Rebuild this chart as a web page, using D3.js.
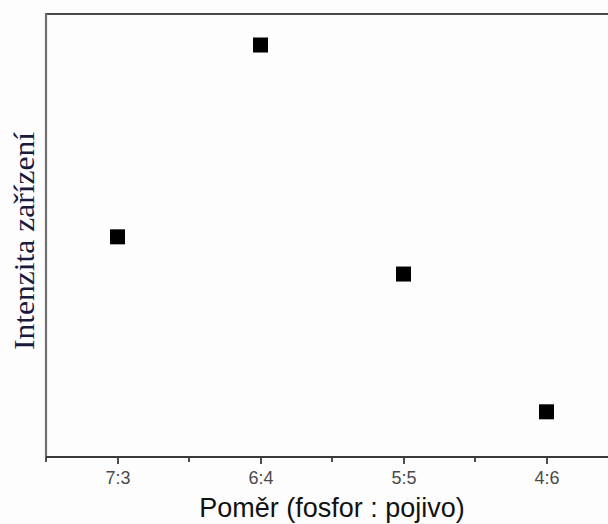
<!DOCTYPE html>
<html>
<head>
<meta charset="utf-8">
<script src="https://cdn.jsdelivr.net/npm/d3@7"></script>
<style>
  html, body { margin: 0; padding: 0; background: #fdfdfd; }
  svg { display: block; }
</style>
</head>
<body>
<svg id="chart" width="608" height="524"></svg>
<script>
// Ratio of phosphor to binder and the measured device intensity (arbitrary units)
const categories = ["7:3", "6:4", "5:5", "4:6"];
const intensity = [49.7, 93.0, 41.3, 10.2];
const minorTicks = [-0.5, 0.5, 1.5, 2.5];

const svg = d3.select("#chart");
const plotLeft = 46, plotTop = 14, plotBottom = 457;

// Categories sit at integer positions, frame spans half a step on each side
const x = d3.scaleLinear().domain([-0.5, 3.5]).range([plotLeft, plotLeft + 4 * 143]);
const y = d3.scaleLinear().domain([0, 100]).range([plotBottom, plotTop]);

// Frame: top and left borders
svg.append("line")
  .attr("x1", plotLeft).attr("x2", 608).attr("y1", plotTop).attr("y2", plotTop)
  .attr("stroke", "#4a4a4a").attr("stroke-width", 2.2);
svg.append("line")
  .attr("x1", plotLeft).attr("x2", plotLeft).attr("y1", plotTop - 1).attr("y2", plotBottom)
  .attr("stroke", "#6f6f6f").attr("stroke-width", 2.2);

// Bottom axis with major ticks at categories
const xAxis = d3.axisBottom(x)
  .tickValues(d3.range(categories.length))
  .tickFormat(i => categories[i])
  .tickSize(7)
  .tickPadding(7);
const gx = svg.append("g").attr("transform", `translate(0,${plotBottom})`).call(xAxis);
gx.select(".domain").attr("stroke", "#3a3a3a").attr("stroke-width", 2.2)
  .attr("d", `M${plotLeft},0H608`);
gx.selectAll(".tick line").attr("stroke", "#3a3a3a").attr("stroke-width", 1.8);
gx.selectAll(".tick text")
  .attr("font-family", "Liberation Sans, Arial, sans-serif")
  .attr("font-size", 18).attr("fill", "#4a4a4a");

// Minor ticks between categories
svg.append("g").selectAll("line").data(minorTicks).join("line")
  .attr("x1", d => x(d)).attr("x2", d => x(d))
  .attr("y1", plotBottom).attr("y2", plotBottom + 5)
  .attr("stroke", "#3a3a3a").attr("stroke-width", 1.8);

// Square markers
const size = 15;
svg.append("g").selectAll("rect").data(intensity).join("rect")
  .attr("x", (d, i) => x(i) - size / 2)
  .attr("y", d => y(d) - size / 2)
  .attr("width", size).attr("height", size)
  .attr("fill", "#000");

// Axis titles
svg.append("text")
  .attr("x", 332).attr("y", 517)
  .attr("text-anchor", "middle")
  .attr("font-family", "Liberation Sans, Arial, sans-serif")
  .attr("font-size", 27).attr("fill", "#111")
  .text("Poměr (fosfor : pojivo)");

svg.append("text")
  .attr("transform", "translate(34,241) rotate(-90)")
  .attr("text-anchor", "middle")
  .attr("font-family", "Liberation Serif, Times New Roman, serif")
  .attr("font-size", 30).attr("fill", "#1a1a3c")
  .attr("textLength", 218).attr("lengthAdjust", "spacingAndGlyphs")
  .text("Intenzita zařízení");
</script>
</body>
</html>
